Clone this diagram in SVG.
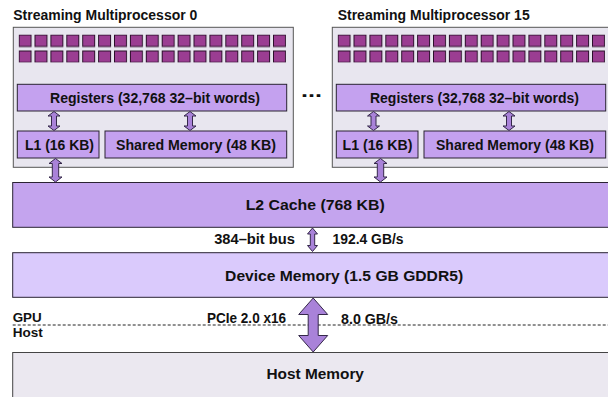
<svg xmlns="http://www.w3.org/2000/svg" xmlns:xlink="http://www.w3.org/1999/xlink" width="608" height="397" viewBox="0 0 608 397">
<style>
text{font-family:"Liberation Sans",Arial,Helvetica,sans-serif;font-weight:bold;fill:#111;}
.t13{font-size:14px;}
.t12{font-size:12.5px;}
.t14{font-size:15.5px;}
.sm{fill:#e8e6ef;stroke:#555;stroke-width:1;}
.unit{fill:#c4a1ef;stroke:#2a2333;stroke-width:1;}
.l2{fill:#c4a4ee;stroke:#2a2333;stroke-width:1;}
.dev{fill:#dacafc;stroke:#2a2333;stroke-width:1;}
.host{fill:#ebe8f0;stroke:#444;stroke-width:1;}
.arr{fill:#a982d9;stroke:#35284a;stroke-width:1;stroke-linejoin:miter;}
</style>
<defs>
<pattern id="cores" x="18.6" y="34.5" width="15.9" height="16" patternUnits="userSpaceOnUse">
<rect x="0.5" y="0.5" width="12" height="11.5" fill="#9b3d92" stroke="#2b0f2a" stroke-width="1"/>
</pattern>
<path id="arrSmall" d="M0,0 L6,4.5 L2.5,4.5 L2.5,14.5 L6,14.5 L0,19 L-6,14.5 L-2.5,14.5 L-2.5,4.5 L-6,4.5 Z"/>
<path id="arrMid" d="M0,0 L6.5,5 L3.2,5 L3.2,18.5 L6.5,18.5 L0,23.5 L-6.5,18.5 L-3.2,18.5 L-3.2,5 L-6.5,5 Z"/>
<path id="arrBus" d="M0,0 L5,6 L2.2,6 L2.2,17.5 L5,17.5 L0,23.5 L-5,17.5 L-2.2,17.5 L-2.2,6 L-5,6 Z"/>
<path id="arrPcie" d="M0,0 L14.5,16.5 L5,16.5 L5,37.5 L14.5,37.5 L0,54 L-14.5,37.5 L-5,37.5 L-5,16.5 L-14.5,16.5 Z"/>
</defs>

<g id="sm0">
<rect class="sm" x="13.3" y="27.3" width="280" height="140"/>
<rect x="18.6" y="34.5" width="267.4" height="28" fill="url(#cores)"/>
<text class="t13" x="105.3" y="20" text-anchor="middle" textLength="184" lengthAdjust="spacingAndGlyphs">Streaming Multiprocessor 0</text>
</g>
<g id="sm0-registers">
<rect class="unit" x="17.3" y="84.3" width="269.4" height="26.7"/>
<text class="t13" x="155" y="102.8" text-anchor="middle" textLength="210" lengthAdjust="spacingAndGlyphs">Registers (32,768 32–bit words)</text>
</g>
<g id="sm0-l1">
<rect class="unit" x="17.3" y="131" width="81.7" height="27"/>
<text class="t13" x="59.5" y="150" text-anchor="middle" textLength="69" lengthAdjust="spacingAndGlyphs">L1 (16 KB)</text>
</g>
<g id="sm0-shared">
<rect class="unit" x="105" y="131" width="181.7" height="27"/>
<text class="t13" x="196" y="150" text-anchor="middle" textLength="160" lengthAdjust="spacingAndGlyphs">Shared Memory (48 KB)</text>
</g>

<g id="ellipsis">
<text x="311.5" y="96.5" style="font-size:18px" text-anchor="middle" textLength="21" lengthAdjust="spacingAndGlyphs">...</text>
</g>

<g id="sm15" transform="translate(319,0)">
<rect class="sm" x="13.3" y="27.3" width="280" height="140"/>
<rect x="18.6" y="34.5" width="267.4" height="28" fill="url(#cores)"/>
<text class="t13" x="114.7" y="20" text-anchor="middle" textLength="192" lengthAdjust="spacingAndGlyphs">Streaming Multiprocessor 15</text>
</g>
<g id="sm15-registers" transform="translate(319,0)">
<rect class="unit" x="17.3" y="84.3" width="269.4" height="26.7"/>
<text class="t13" x="155.5" y="102.8" text-anchor="middle" textLength="209" lengthAdjust="spacingAndGlyphs">Registers (32,768 32–bit words)</text>
</g>
<g id="sm15-l1" transform="translate(319,0)">
<rect class="unit" x="17.3" y="131" width="81.7" height="27"/>
<text class="t13" x="58.5" y="150" text-anchor="middle" textLength="70" lengthAdjust="spacingAndGlyphs">L1 (16 KB)</text>
</g>
<g id="sm15-shared" transform="translate(319,0)">
<rect class="unit" x="105" y="131" width="181.7" height="27"/>
<text class="t13" x="196" y="150" text-anchor="middle" textLength="158" lengthAdjust="spacingAndGlyphs">Shared Memory (48 KB)</text>
</g>

<g id="l2">
<rect class="l2" x="12.7" y="182.5" width="610" height="44.8"/>
<text class="t14" x="315.2" y="209.5" text-anchor="middle" textLength="139" lengthAdjust="spacingAndGlyphs">L2 Cache (768 KB)</text>
</g>

<g id="device">
<rect class="dev" x="12.7" y="252.7" width="610" height="44.6"/>
<text class="t14" x="344.1" y="280.5" text-anchor="middle" textLength="238" lengthAdjust="spacingAndGlyphs">Device Memory (1.5 GB GDDR5)</text>
</g>

<g id="host">
<rect class="host" x="12.7" y="352.5" width="610" height="60"/>
<text class="t14" x="315.2" y="379" text-anchor="middle" textLength="97.5" lengthAdjust="spacingAndGlyphs">Host Memory</text>
</g>

<g id="boundary">
<line x1="12.7" y1="325" x2="608" y2="325" stroke="#222" stroke-width="1" stroke-dasharray="3,2"/>
<text class="t12" x="12.7" y="322" textLength="29" lengthAdjust="spacingAndGlyphs">GPU</text>
<text class="t12" x="12.7" y="337" textLength="30" lengthAdjust="spacingAndGlyphs">Host</text>
</g>

<g id="connectors">
<use href="#arrSmall" class="arr" x="54" y="111.5"/>
<use href="#arrSmall" class="arr" x="190" y="111.5"/>
<use href="#arrMid" class="arr" x="55.5" y="158.5"/>
<use href="#arrSmall" class="arr" x="373.5" y="111.5"/>
<use href="#arrSmall" class="arr" x="509" y="111.5"/>
<use href="#arrMid" class="arr" x="380.5" y="158.5"/>
<use href="#arrBus" class="arr" x="312.5" y="228"/>
<use href="#arrPcie" class="arr" x="313.2" y="298"/>
<text class="t13" x="214.2" y="243.5" textLength="80.7" lengthAdjust="spacingAndGlyphs">384–bit bus</text>
<text class="t13" x="332.5" y="243.5" textLength="71" lengthAdjust="spacingAndGlyphs">192.4 GB/s</text>
<text class="t13" x="207" y="322.5" textLength="79" lengthAdjust="spacingAndGlyphs">PCIe 2.0 x16</text>
<text class="t13" x="341" y="323.5" textLength="57" lengthAdjust="spacingAndGlyphs">8.0 GB/s</text>
</g>
</svg>
